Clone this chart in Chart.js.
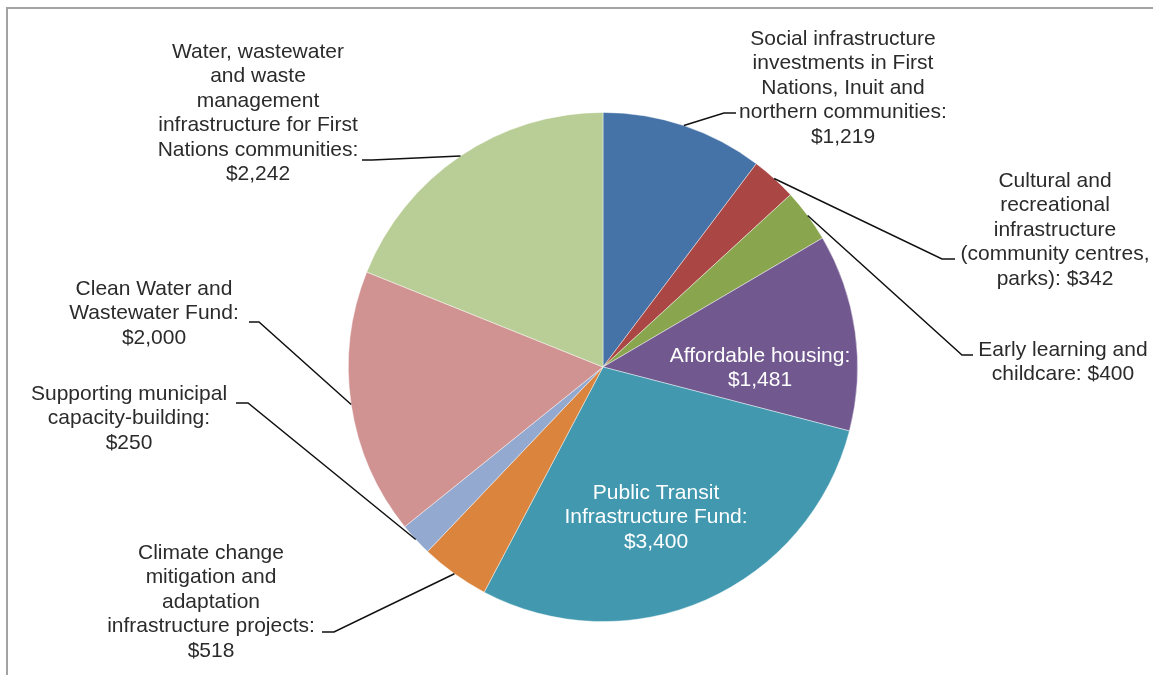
<!DOCTYPE html>
<html>
<head>
<meta charset="utf-8">
<script src="https://cdn.jsdelivr.net/npm/chart.js@4"></script>
<style>
    html, body { margin: 0; padding: 0; background: #fff; overflow: hidden; }
    #frame { position: absolute; left: 6px; top: 7px; width: 2000px; height: 2000px; border: 2px solid #a3a3a3; }
    #wrap { position: absolute; left: 0; top: 0; width: 1153px; height: 675px; }
</style>
</head>
<body>
<div id="frame"></div>
<div id="wrap"><canvas id="chart-pie" width="1153" height="675"></canvas></div>
<script>
// slice names, one entry per line of the data label; {v} is where the value goes
var categories = [
    ['Social infrastructure', 'investments in First', 'Nations, Inuit and', 'northern communities:', '{v}'],
    ['Cultural and', 'recreational', 'infrastructure', '(community centres,', 'parks): {v}'],
    ['Early learning and', 'childcare: {v}'],
    ['Affordable housing:', '{v}'],
    ['Public Transit', 'Infrastructure Fund:', '{v}'],
    ['Climate change', 'mitigation and', 'adaptation', 'infrastructure projects:', '{v}'],
    ['Supporting municipal', 'capacity-building:', '{v}'],
    ['Clean Water and', 'Wastewater Fund:', '{v}'],
    ['Water, wastewater', 'and waste', 'management', 'infrastructure for First', 'Nations communities:', '{v}']
];
var values = [1219, 342, 400, 1481, 3400, 518, 250, 2000, 2242];
var colors = ['#4572A7', '#AA4643', '#89A54E', '#71588F', '#4198AF', '#DB843D', '#93A9CF', '#D19392', '#B9CD96'];

// where each data label sits (centre x, middle of first line) and its leader line bend
var labelLayout = [
    { x: 843, y: 39, bend: [724, 113], end: 736 },
    { x: 1055, y: 181, bend: [942, 259], end: 955 },
    { x: 1063, y: 350, bend: [962, 355], end: 973 },
    { x: 760, y: 356, inside: true },
    { x: 656, y: 493, inside: true },
    { x: 211, y: 553, bend: [334, 632], end: 322 },
    { x: 129, y: 394, bend: [248, 403], end: 236 },
    { x: 154, y: 289, bend: [259, 322], end: 249 },
    { x: 258, y: 52, bend: [372, 160], end: 362 }
];
var lineHeight = 24.5;

function money(v) {
    return '$' + v.toLocaleString('en-US');
}

var pieLabels = {
    id: 'pieLabels',
    afterDatasetsDraw: function (chart) {
        var ctx = chart.ctx;
        var meta = chart.getDatasetMeta(0);
        ctx.save();
        ctx.font = '21px "Liberation Sans", Arial, sans-serif';
        ctx.textAlign = 'center';
        ctx.textBaseline = 'middle';
        meta.data.forEach(function (arc, i) {
            var p = arc.getProps(['x', 'y', 'startAngle', 'endAngle', 'outerRadius'], true);
            var mid = (p.startAngle + p.endAngle) / 2;
            var lay = labelLayout[i];
            if (!lay.inside) {
                var ax = p.x + Math.cos(mid) * p.outerRadius;
                var ay = p.y + Math.sin(mid) * p.outerRadius;
                ctx.strokeStyle = '#111';
                ctx.lineWidth = 1.5;
                ctx.beginPath();
                ctx.moveTo(ax, ay);
                ctx.lineTo(lay.bend[0], lay.bend[1]);
                ctx.lineTo(lay.end, lay.bend[1]);
                ctx.stroke();
            }
            ctx.fillStyle = lay.inside ? '#ffffff' : '#2b2b2b';
            categories[i].forEach(function (line, j) {
                ctx.fillText(line.replace('{v}', money(values[i])), lay.x, lay.y + j * lineHeight);
            });
        });
        ctx.restore();
    }
};

var pie_config = {
    type: 'pie',
    data: {
        labels: categories.map(function (c) { return c.join(' ').replace(' {v}', ''); }),
        datasets: [{
            data: values,
            backgroundColor: colors,
            borderColor: 'rgba(255,255,255,0.55)',
            borderWidth: 0.8
        }]
    },
    options: {
        responsive: false,
        animation: false,
        devicePixelRatio: 1,
        layout: { padding: { left: 348, right: 295, top: 112, bottom: 53 } },
        plugins: {
            legend: { display: false },
            tooltip: { enabled: false }
        }
    },
    plugins: [pieLabels]
};

var pieChart = document.getElementById('chart-pie').getContext('2d');
window.myPie = new Chart(pieChart, pie_config);
</script>
</body>
</html>
